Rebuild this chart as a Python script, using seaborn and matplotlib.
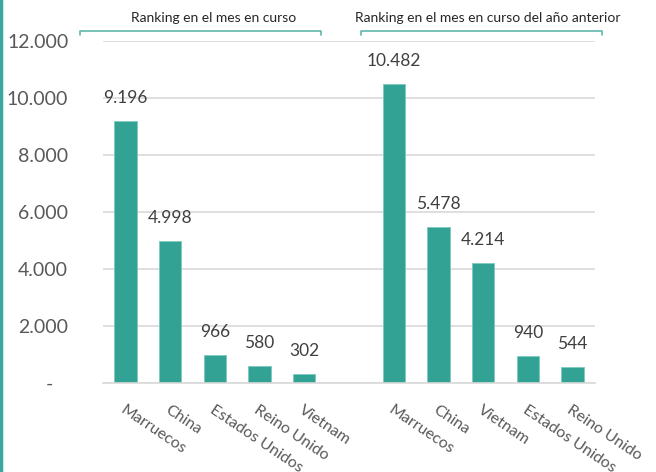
import matplotlib
matplotlib.use('Agg')
import matplotlib.pyplot as plt
import matplotlib.transforms as mtransforms
from matplotlib.lines import Line2D
import pandas as pd
import seaborn as sns

# Datos
paises_actual = ['Marruecos', 'China', 'Estados Unidos', 'Reino Unido', 'Vietnam']
valores_actual = [9196, 4998, 966, 580, 302]
paises_anterior = ['Marruecos', 'China', 'Vietnam', 'Estados Unidos', 'Reino Unido']
valores_anterior = [10482, 5478, 4214, 940, 544]
titulo_actual = 'Ranking en el mes en curso'
titulo_anterior = 'Ranking en el mes en curso del año anterior'
y_ticks = [0, 2000, 4000, 6000, 8000, 10000, 12000]

# una posicion vacia entre los dos grupos
etiquetas = paises_actual + [''] + paises_anterior
valores = valores_actual + [None] + valores_anterior
claves = ['c%d' % i for i in range(len(etiquetas))]
df = pd.DataFrame({'clave': claves, 'valor': valores})

teal = '#31a293'
gris = '#d9d9d9'


def fmt(v):
    return f'{int(v):,}'.replace(',', '.')


sns.set_style('white')
plt.rcParams['font.family'] = ['Lato', 'DejaVu Sans']

fig = plt.figure(figsize=(6.56, 4.72), dpi=100)
ax = fig.add_axes([103 / 656, 89 / 472, 492 / 656, 342 / 472])

sns.barplot(data=df, x='clave', y='valor', order=claves, color=teal,
            saturation=1, width=0.5, errorbar=None, ax=ax,
            edgecolor='#7fc9bf', linewidth=0.6)

# etiquetas de datos
for i, v in enumerate(valores):
    if v is None:
        continue
    ax.annotate(fmt(v), (i, v), xytext=(0, 23), textcoords='offset pixels',
                ha='center', va='center', fontsize=12.5, color='#404040')

ax.set_ylim(0, 12000)
ax.set_xlim(-0.5, len(etiquetas) - 0.5)
ax.set_yticks(y_ticks)
ax.set_yticklabels(['-   ' if t == 0 else fmt(t) for t in y_ticks],
                   fontsize=14, color='#595959')
ax.tick_params(axis='y', length=0, pad=25)

ax.set_xticks(range(len(etiquetas)))
ax.set_xticklabels(etiquetas, rotation=-34, ha='left', va='top',
                   rotation_mode='anchor', fontsize=11.5, color='#595959')
ax.tick_params(axis='x', which='major', length=0, pad=14)
ax.set_xticks([i - 0.5 for i in range(len(etiquetas) + 1)], minor=True)
ax.tick_params(axis='x', which='minor', length=4, color=gris, width=1.2,
               direction='out')
ax.set_xlabel('')
ax.set_ylabel('')

ax.yaxis.grid(True, color=gris, linewidth=1.2)
ax.set_axisbelow(True)
for s in ['top', 'right', 'left']:
    ax.spines[s].set_visible(False)
ax.spines['bottom'].set_color(gris)
ax.spines['bottom'].set_linewidth(1.2)

# corchetes de los grupos
trans = mtransforms.blended_transform_factory(ax.transData, ax.transAxes)
grupos = [(-1.01, 4.38, 1.97, titulo_actual), (5.27, 10.66, 8.1, titulo_anterior)]
for x0, x1, xc, titulo in grupos:
    ax.plot([x0, x0, x1, x1], [1.0175, 1.029, 1.029, 1.0175], transform=trans,
            color='#5fb8ad', linewidth=1.2, clip_on=False)
    ax.text(xc, 1.067, titulo, transform=trans, ha='center', va='center',
            fontsize=10, color='#262626', clip_on=False)

# borde izquierdo
fig.add_artist(Line2D([0.002, 0.002], [0, 1], transform=fig.transFigure,
                      color='#3aa89b', linewidth=2.5))

fig.savefig('out.png', dpi=100)
